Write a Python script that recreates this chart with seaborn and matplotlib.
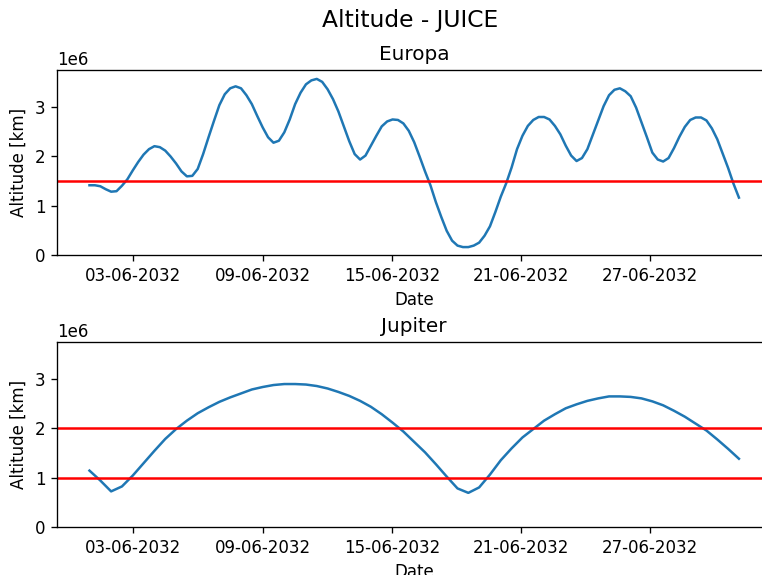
import numpy as np
import pandas as pd
import matplotlib
matplotlib.use("Agg")
import matplotlib.pyplot as plt
import matplotlib.dates as mdates
import seaborn as sns

# ---- data (altitudes in 1e6 km) ----
start_date = "2032-05-31 23:00"
europa_step = "362min"
jupiter_step = "724min"
europa_alt = [1.41, 1.41, 1.39, 1.33, 1.28, 1.29, 1.40, 1.53, 1.71, 1.88,
              2.03, 2.14, 2.20, 2.18, 2.11, 1.99, 1.85, 1.69, 1.59, 1.60,
              1.74, 2.04, 2.38, 2.71, 3.03, 3.25, 3.37, 3.41, 3.37, 3.23,
              3.05, 2.81, 2.58, 2.38, 2.27, 2.31, 2.48, 2.74, 3.05, 3.28,
              3.45, 3.53, 3.56, 3.50, 3.35, 3.15, 2.90, 2.60, 2.30, 2.04,
              1.93, 2.01, 2.21, 2.41, 2.60, 2.70, 2.74, 2.73, 2.66, 2.51,
              2.28, 1.99, 1.69, 1.41, 1.07, 0.77, 0.49, 0.29, 0.19, 0.16,
              0.16, 0.19, 0.25, 0.39, 0.58, 0.87, 1.18, 1.45, 1.77, 2.14,
              2.41, 2.61, 2.73, 2.79, 2.79, 2.74, 2.61, 2.44, 2.21, 2.01,
              1.90, 1.96, 2.14, 2.43, 2.72, 3.01, 3.23, 3.34, 3.37, 3.31,
              3.21, 2.98, 2.68, 2.38, 2.07, 1.93, 1.89, 1.96, 2.16, 2.39,
              2.59, 2.73, 2.78, 2.78, 2.72, 2.56, 2.34, 2.05, 1.76, 1.44,
              1.16]
jupiter_alt = [1.14, 0.94, 0.72, 0.82, 1.04, 1.29, 1.54, 1.78, 1.98, 2.15,
               2.30, 2.42, 2.53, 2.62, 2.70, 2.78, 2.83, 2.87, 2.89, 2.89,
               2.88, 2.85, 2.80, 2.73, 2.65, 2.55, 2.43, 2.28, 2.11, 1.93,
               1.72, 1.51, 1.27, 1.02, 0.78, 0.69, 0.80, 1.06, 1.35, 1.59,
               1.81, 1.98, 2.15, 2.28, 2.40, 2.48, 2.55, 2.60, 2.64, 2.64,
               2.63, 2.60, 2.54, 2.46, 2.35, 2.23, 2.09, 1.95, 1.77, 1.58,
               1.38]
europa_limits = [1.5e6]
jupiter_limits = [1.0e6, 2.0e6]
tick_days = [3, 9, 15, 21, 27]

df_e = pd.DataFrame({
    "Date": pd.date_range(start_date, periods=len(europa_alt), freq=europa_step),
    "Altitude": np.array(europa_alt) * 1e6,
})
df_j = pd.DataFrame({
    "Date": pd.date_range(start_date, periods=len(jupiter_alt), freq=jupiter_step),
    "Altitude": np.array(jupiter_alt) * 1e6,
})

fig = plt.figure(figsize=(762 / 120, 575 / 120), dpi=120)
axw = (771.4 - 57) / 762
ax1 = fig.add_axes([57 / 762, (575 - 255) / 575, axw, 185 / 575])
ax2 = fig.add_axes([57 / 762, (575 - 527) / 575, axw, 185 / 575])

panels = [(ax1, "Europa", df_e, europa_limits), (ax2, "Jupiter", df_j, jupiter_limits)]
for ax, name, df, limits in panels:
    sns.lineplot(data=df, x="Date", y="Altitude", ax=ax, color="#1f77b4", linewidth=1.5)
    for lim in limits:
        ax.axhline(lim, color="red", linewidth=1.5)
    ax.set_title(name, fontsize=12)
    ax.set_xlabel("Date", fontsize=10)
    ax.set_ylabel("Altitude [km]", fontsize=10)
    ax.set_ylim(0, 3.74e6)
    ax.xaxis.set_major_locator(mdates.DayLocator(bymonthday=tick_days))
    ax.xaxis.set_major_formatter(mdates.DateFormatter("%d-%m-%Y"))
    ax.tick_params(labelsize=10)

fig.text(410 / 762, 1 - 21 / 575, "Altitude - JUICE", ha="center", va="center", fontsize=14)
fig.savefig("out.png", dpi=120)
